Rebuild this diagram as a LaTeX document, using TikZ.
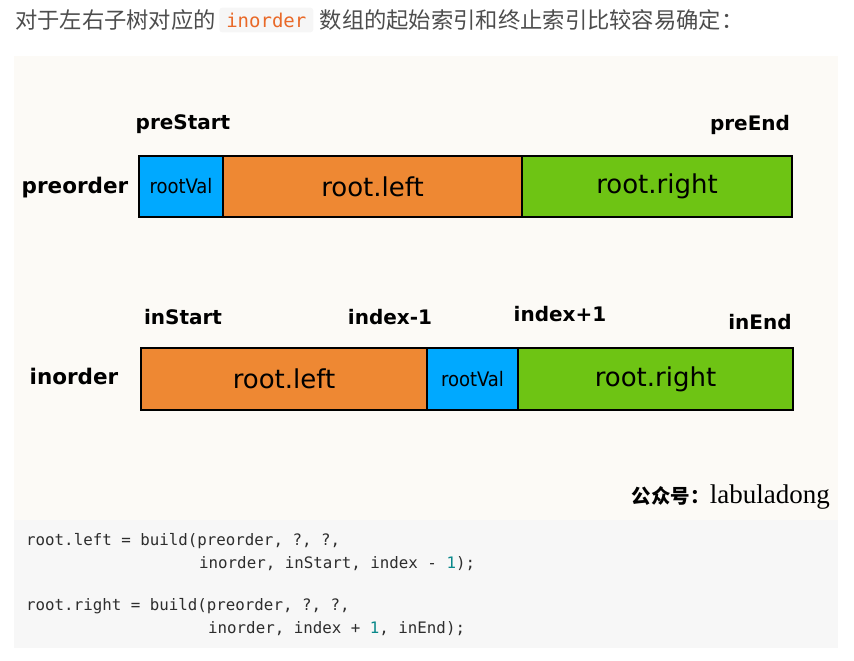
\documentclass[tikz,border=0pt]{standalone}
\usepackage{fontspec}
\setmainfont{DejaVu Sans}
\setmonofont{DejaVu Sans Mono}
\newfontfamily\cjk{Noto Sans CJK SC}
\newfontfamily\wmserif{Liberation Serif}
\newfontfamily\narrowsans{DejaVu Sans Condensed}
\usetikzlibrary{positioning}
\definecolor{valblue}{RGB}{0,169,255}
\definecolor{leftorange}{RGB}{238,136,51}
\definecolor{rightgreen}{RGB}{110,196,20}
\definecolor{hdrgray}{RGB}{77,77,77}
\definecolor{codegray}{RGB}{45,45,45}
\definecolor{spanbg}{RGB}{246,246,246}
\definecolor{spantext}{RGB}{233,105,40}
\definecolor{picbg}{RGB}{252,250,246}
\definecolor{codebg}{RGB}{247,247,247}
\definecolor{numteal}{RGB}{9,136,138}

\tikzset{
  cell/.style={draw=black, line width=1.3pt, minimum height=61pt, inner sep=0pt, outer sep=0pt,
    text=black, font=\fontsize{26}{30}\selectfont},
  valcell/.style={cell, fill=valblue, font=\narrowsans\fontsize{20}{24}\selectfont},
  idx/.style={font=\bfseries\fontsize{20}{24}\selectfont},
  rowname/.style={font=\bfseries\fontsize{21.5}{25}\selectfont},
  hdr/.style={anchor=west, inner sep=0pt, text=hdrgray, font=\cjk\fontsize{22.3}{26}\selectfont},
  codeline/.style={anchor=west, inner sep=0pt, text=codegray, font=\ttfamily\fontsize{15.8}{19}\selectfont},
}

\begin{document}
\begin{tikzpicture}[x=1pt,y=-1pt]
\useasboundingbox (0,0) rectangle (854,661);
% backgrounds
\fill[picbg] (14,56) rectangle (838,520);
\fill[codebg] (14,520) rectangle (838,648);

% header line
\node[hdr] (h1) at (15,20) {对于左右子树对应的};
\node[hdr, right=3pt of h1, fill=spanbg, rounded corners=3pt, inner xsep=7pt, inner ysep=5pt,
  text=spantext, font=\ttfamily\fontsize{19}{22}\selectfont] (hspan) {inorder};
\node[hdr, right=6pt of hspan] (h2) {数组的起始索引和终止索引比较容易确定：};

% preorder array
\node[valcell, minimum width=84pt, anchor=north west] (preval) at (139,156) {rootVal};
\node[cell, fill=leftorange, minimum width=299pt, right=0pt of preval] (preleft) {root.left};
\node[cell, fill=rightgreen, minimum width=270pt, right=0pt of preleft] (preright) {root.right};
\node[rowname] (prename) at (75,188) {preorder};
\node[idx] (prestart) at (183,124) {preStart};
\node[idx] (preend) at (750,125) {preEnd};

% inorder array
\node[cell, fill=leftorange, minimum width=286pt, minimum height=62pt, anchor=north west] (inleft) at (141,348) {root.left};
\node[valcell, minimum width=91pt, minimum height=62pt, right=0pt of inleft] (inval) {rootVal};
\node[cell, fill=rightgreen, minimum width=275pt, minimum height=62pt, right=0pt of inval] (inright) {root.right};
\node[rowname] (inname) at (74,376) {inorder};
\node[idx] (instart) at (183,317) {inStart};
\node[idx] (idxminus) at (390,317) {index-1};
\node[idx] (idxplus) at (560,314) {index+1};
\node[idx] (inend) at (760,322) {inEnd};

% watermark
\node[anchor=east, inner sep=0pt] (wmark) at (830,497)
  {{\cjk\bfseries\fontsize{19.5}{22}\selectfont 公众号：}{\wmserif\fontsize{27}{30}\selectfont labuladong}};

% code block
\node[codeline] (c1) at (26,541) {root.left = build(preorder, ?, ?,};
\node[codeline] (c2) at (199,564) {inorder, inStart, index - \textcolor{numteal}{1});};
\node[codeline] (c3) at (26,606) {root.right = build(preorder, ?, ?,};
\node[codeline] (c4) at (208,629) {inorder, index + \textcolor{numteal}{1}, inEnd);};
\end{tikzpicture}
\end{document}
